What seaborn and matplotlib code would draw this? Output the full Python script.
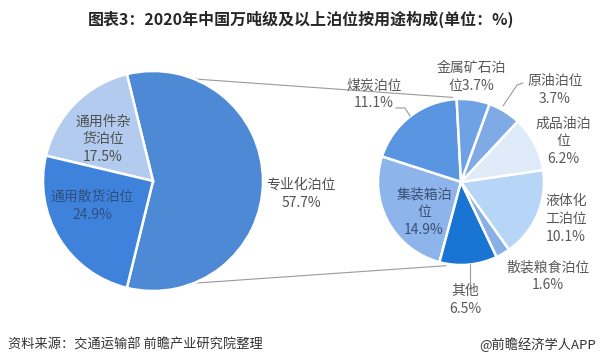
import numpy as np
import matplotlib
matplotlib.use("Agg")
import matplotlib.pyplot as plt
import seaborn as sns

# ---------------- data ----------------
main_names = ["专业化泊位", "通用件杂货泊位", "通用散货泊位"]
main_values = [57.7, 17.5, 24.9]
main_labels = ["专业化泊位\n57.7%", "通用件杂\n货泊位\n17.5%", "通用散货泊位\n24.9%"]

sub_names = ["煤炭泊位", "集装箱泊位", "其他", "散装粮食泊位",
             "液体化工泊位", "成品油泊位", "原油泊位", "金属矿石泊位"]
sub_values = [11.1, 14.9, 6.5, 1.6, 10.1, 6.2, 3.7, 3.7]
sub_labels = ["煤炭泊位\n11.1%", "集装箱泊\n位\n14.9%", "其他\n6.5%", "散装粮食泊位\n1.6%",
              "液体化\n工泊位\n10.1%", "成品油泊\n位\n6.2%", "原油泊位\n3.7%", "金属矿石泊\n位3.7%"]

title = "图表3：2020年中国万吨级及以上泊位按用途构成(单位：%)"
source = "资料来源：交通运输部 前瞻产业研究院整理"
credit = "@前瞻经济学人APP"

# ---------------- style ----------------
sns.set_theme(style="white")
plt.rcParams["font.family"] = ["Noto Sans CJK SC", "DejaVu Sans"]

W, H = 600, 362
fig = plt.figure(figsize=(W / 100, H / 100), dpi=100)
ax = fig.add_axes([0, 0, 1, 1])

def Y(ypx):
    return H - ypx

main_colors = ["#4e89d5", "#b2cbef", "#3f82dc"]
sub_colors = ["#5a95e1", "#8db4eb", "#1a74d3", "#88afe6",
              "#b7d5f6", "#dfebf9", "#80aae6", "#6fa1e5"]

# left (main) pie
c1 = (153, Y(181)); r1 = 110
start1 = -main_values[0] / sum(main_values) * 360 / 2
w1, _ = ax.pie(main_values, colors=main_colors, startangle=start1, center=c1, radius=r1,
               wedgeprops=dict(edgecolor="white", linewidth=1.8), frame=True)

# right (sub) pie
c2 = (461, Y(182)); r2 = 83
w2, _ = ax.pie(sub_values, colors=sub_colors, startangle=93, center=c2, radius=r2,
               wedgeprops=dict(edgecolor="white", linewidth=1.8), frame=True)

# connector lines between the pies
t_top = np.deg2rad(w1[0].theta2)
t_bot = np.deg2rad(w1[0].theta1)
p_top = (c1[0] + r1 * np.cos(t_top), c1[1] + r1 * np.sin(t_top))
p_bot = (c1[0] + r1 * np.cos(t_bot), c1[1] + r1 * np.sin(t_bot))
a_top = np.deg2rad(w2[0].theta1 + 2.5)
a_bot = np.deg2rad(w2[2].theta1 + 5)
q_top = (c2[0] + (r2 + 2) * np.cos(a_top), c2[1] + (r2 + 2) * np.sin(a_top))
q_bot = (c2[0] + (r2 + 2) * np.cos(a_bot), c2[1] + (r2 + 2) * np.sin(a_bot))
ax.plot([p_top[0], q_top[0]], [p_top[1], q_top[1]], color="#9a9a9a", lw=0.8, zorder=0.5)
ax.plot([p_bot[0], q_bot[0]], [p_bot[1], q_bot[1]], color="#9a9a9a", lw=0.8, zorder=0.5)

# label positions (pixel space)
main_pos = [(301, 194), (103, 139), (92, 206)]
main_tc = ["#505050", "#505050", "#2f4f7f"]
sub_pos = [(374, 94), (424, 212), (465, 300), (548, 276),
           (566, 219), (563, 141), (555, 90), (471, 77)]
sub_tc = ["#595959", "#3b4f72", "#595959", "#595959",
          "#595959", "#595959", "#595959", "#595959"]

fs = 10
ls = 1.32
for (x, y), lab, col in zip(main_pos, main_labels, main_tc):
    ax.text(x, Y(y), lab, ha="center", va="center", fontsize=fs, color=col, linespacing=ls)
for (x, y), lab, col in zip(sub_pos, sub_labels, sub_tc):
    ax.text(x, Y(y), lab, ha="center", va="center", fontsize=fs, color=col, linespacing=ls)

# leader lines for outside labels
def leader(pts):
    ax.plot([p[0] for p in pts], [Y(p[1]) for p in pts], color="#9a9a9a", lw=0.8)

leader([(396, 108), (405, 108), (410, 116)])
leader([(523, 83), (517, 85), (503, 106)])
leader([(470, 288), (470, 264)])

# title & footer
ax.text(301, Y(19), title, ha="center", va="center", fontsize=11.5, fontweight="bold", color="#262626")
ax.text(8, Y(345), source, ha="left", va="center", fontsize=9.5, color="#333333")
ax.text(596, Y(345), credit, ha="right", va="center", fontsize=9.5, color="#333333")

ax.set_xlim(0, W)
ax.set_ylim(0, H)
ax.set_aspect("equal", adjustable="box")
ax.axis("off")
fig.savefig("out.png", dpi=100, facecolor="white")
